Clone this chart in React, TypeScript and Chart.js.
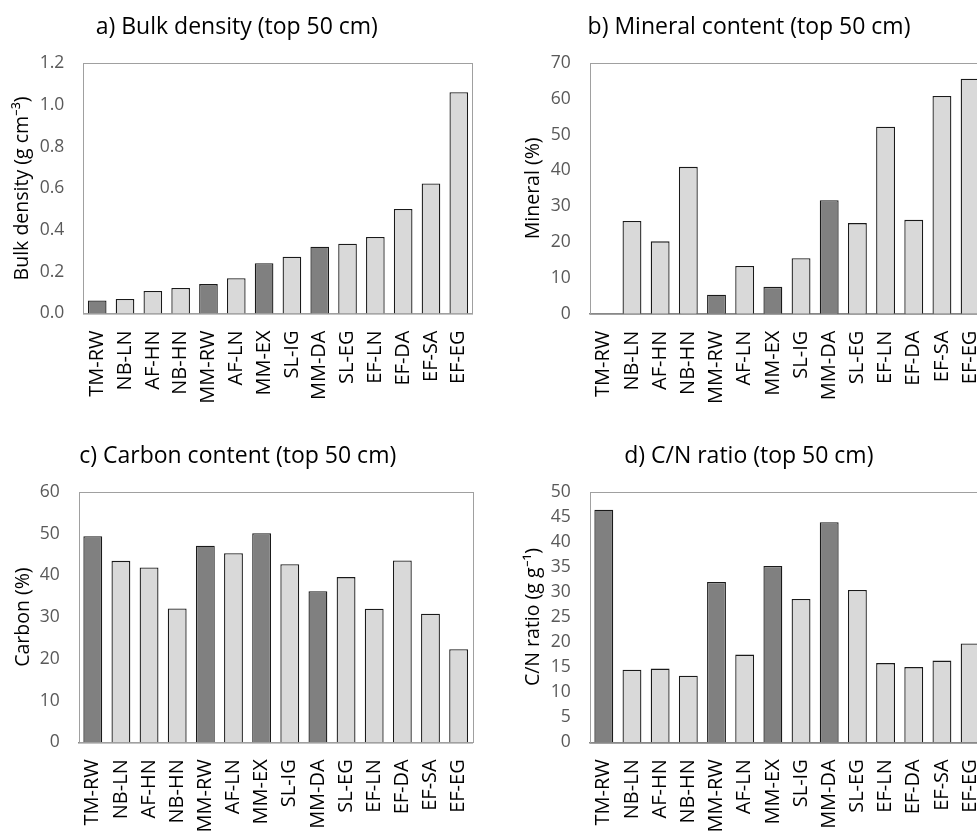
import React, { useEffect, useRef } from "react";
import { Chart, registerables } from "chart.js";

Chart.register(...registerables);

// ---- data ----
const categories = ["TM-RW", "NB-LN", "AF-HN", "NB-HN", "MM-RW", "AF-LN", "MM-EX", "SL-IG", "MM-DA", "SL-EG", "EF-LN", "EF-DA", "EF-SA", "EF-EG"];
const darkSites = ["TM-RW", "MM-RW", "MM-EX", "MM-DA"];

const bulkDensity = [0.062, 0.07, 0.108, 0.122, 0.141, 0.169, 0.241, 0.272, 0.32, 0.335, 0.367, 0.501, 0.624, 1.061];
const mineral = [0, 25.9, 20.2, 41.0, 5.3, 13.3, 7.5, 15.5, 31.7, 25.3, 52.2, 26.2, 60.8, 65.6];
const carbon = [49.4, 43.5, 41.9, 32.1, 47.1, 45.3, 50.1, 42.7, 36.2, 39.6, 32.0, 43.6, 30.8, 22.3];
const cnRatio = [46.4, 14.5, 14.7, 13.3, 32.0, 17.5, 35.2, 28.6, 43.9, 30.4, 15.8, 15.0, 16.3, 19.7];

const panelTitles = ["a) Bulk density (top 50 cm)", "b) Mineral content (top 50 cm)", "c) Carbon content (top 50 cm)", "d) C/N ratio (top 50 cm)"];
const axisTitles = ["Bulk density (g cm\u207B\u00B3)", "Mineral (%)", "Carbon (%)", "C/N ratio (g g\u207B\u00B9)"];
const axisMax = [1.2, 70, 60, 50];
const axisStep = [0.2, 10, 10, 5];
const tickDecimals = [1, 0, 0, 0];

// ---- style ----
const FONT = "'Open Sans', sans-serif";
const DARK = "#808080";
const LIGHT = "#d9d9d9";
const TITLE_SIZE = 23;
const YTITLE_SIZE = 19.5;

type Geo = {
  left: number; top: number; width: number; height: number;
  plotLeft: number; plotRight: number; plotTop: number; plotBottom: number;
  titleX: number; titleMid: number; yTitleX: number;
};

const geos: Geo[] = [
  { left: 0, top: 0, width: 480, height: 414, plotLeft: 83.3, plotRight: 472.7, plotTop: 63.3, plotBottom: 313.5, titleX: 236.8, titleMid: 27, yTitleX: 22 },
  { left: 507, top: 0, width: 490, height: 414, plotLeft: 589.7, plotRight: 984.2, plotTop: 63, plotBottom: 313.7, titleX: 749, titleMid: 27, yTitleX: 533 },
  { left: 0, top: 428, width: 480, height: 406, plotLeft: 78.7, plotRight: 472.7, plotTop: 492, plotBottom: 742.3, titleX: 237.7, titleMid: 456, yTitleX: 23 },
  { left: 507, top: 428, width: 490, height: 406, plotLeft: 589.7, plotRight: 984.2, plotTop: 491.7, plotBottom: 742.3, titleX: 748.8, titleMid: 456, yTitleX: 533 },
];

const frame = {
  id: "plotFrame",
  beforeDatasetsDraw(chart: any) {
    const { ctx, chartArea } = chart;
    ctx.save();
    ctx.strokeStyle = "#a0a0a0";
    ctx.lineWidth = 1;
    ctx.strokeRect(Math.round(chartArea.left) + 0.5, Math.round(chartArea.top) + 0.5, Math.round(chartArea.right - chartArea.left), Math.round(chartArea.bottom - chartArea.top));
    ctx.restore();
  },
};

function Panel({ idx, values }: { idx: number; values: number[] }) {
  const ref = useRef<HTMLCanvasElement | null>(null);
  const g = geos[idx];
  useEffect(() => {
    if (!ref.current) return;
    const tLH = TITLE_SIZE * 1.2;
    const yLH = YTITLE_SIZE * 1.2;
    const pl = 2 * (g.titleX - g.left) - (g.plotRight - g.left);
    const pr = g.width - (g.plotRight - g.left);
    const yw = g.plotLeft - g.left - pl;
    const xh = g.top + g.height - g.plotBottom;
    const tPadTop = g.titleMid - g.top - tLH / 2;
    const tPadBottom = g.plotTop - g.top - tPadTop - tLH;
    const yTitlePad = g.yTitleX - (g.left + pl) - yLH / 2;
    const colors = categories.map((c) => (darkSites.includes(c) ? DARK : LIGHT));
    const chart = new Chart(ref.current, {
      type: "bar",
      data: {
        labels: categories,
        datasets: [
          {
            data: values,
            backgroundColor: colors,
            borderColor: "#1a1a1a",
            borderWidth: 1.3,
            barPercentage: 0.67,
            categoryPercentage: 1,
          },
        ],
      },
      options: {
        animation: false,
        responsive: false,
        devicePixelRatio: 1,
        layout: { padding: { left: pl, right: pr, top: 0, bottom: 0 } },
        plugins: {
          legend: { display: false },
          tooltip: { enabled: false },
          title: {
            display: true,
            text: panelTitles[idx],
            color: "#000",
            font: { family: FONT, size: TITLE_SIZE, weight: "normal" },
            padding: { top: tPadTop, bottom: tPadBottom },
          },
        },
        scales: {
          x: {
            grid: { display: false, drawTicks: false },
            border: { display: true, color: "#888888", width: 1.5 },
            ticks: {
              autoSkip: false,
              maxRotation: 90,
              minRotation: 90,
              padding: 17,
              color: "#000",
              font: { family: FONT, size: 20 },
            },
            afterFit: (s: any) => {
              s.height = xh;
              s.paddingLeft = 0;
              s.paddingRight = 0;
            },
          },
          y: {
            min: 0,
            max: axisMax[idx],
            grid: { display: false, drawTicks: false },
            border: { display: false },
            ticks: {
              stepSize: axisStep[idx],
              padding: 19,
              color: "#595959",
              font: { family: FONT, size: 17.5 },
              callback: (v: any) => Number(v).toFixed(tickDecimals[idx]),
            },
            title: {
              display: true,
              text: axisTitles[idx],
              color: "#000",
              font: { family: FONT, size: YTITLE_SIZE },
              padding: { top: yTitlePad, bottom: 0 },
            },
            afterFit: (s: any) => {
              s.width = yw;
              s.paddingTop = 0;
              s.paddingBottom = 0;
            },
          },
        },
      },
      plugins: [frame],
    } as any);
    return () => chart.destroy();
  }, [idx, values]);
  return (
    <canvas
      ref={ref}
      width={g.width}
      height={g.height}
      style={{ position: "absolute", left: g.left, top: g.top, width: g.width, height: g.height }}
    />
  );
}

export default function App() {
  return (
    <div style={{ position: "fixed", left: 0, top: 0, width: 977, height: 834, overflow: "hidden", background: "#fff" }}>
      <Panel idx={0} values={bulkDensity} />
      <Panel idx={1} values={mineral} />
      <Panel idx={2} values={carbon} />
      <Panel idx={3} values={cnRatio} />
    </div>
  );
}
